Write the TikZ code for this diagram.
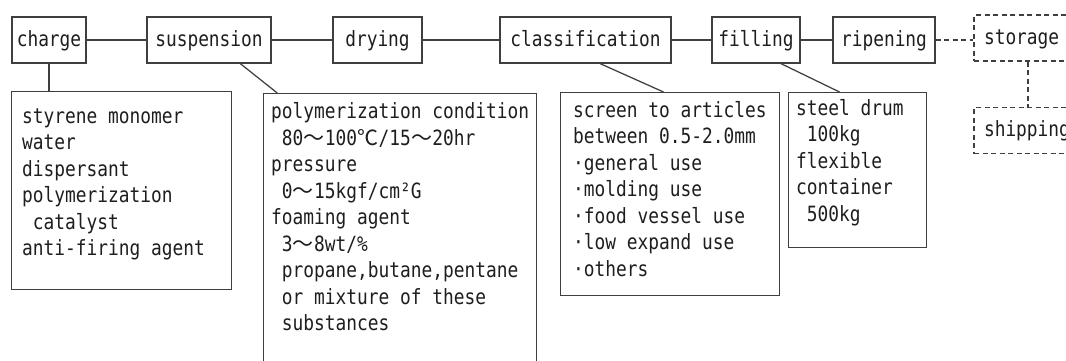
\documentclass[tikz,border=0pt]{standalone}
\usepackage{fontspec}
\usetikzlibrary{calc}
\newfontfamily\monofont[FakeStretch=0.85]{DejaVu Sans Mono}
\newfontfamily\cjkfont{Noto Sans CJK JP}
\newlength\cellw
\setlength\cellw{10.75pt}
% full-width glyph occupying two character cells
\newcommand\fw[1]{\makebox[2\cellw]{\cjkfont #1}}
% one-cell indent at the start of a line
\newcommand\ind{\hspace*{\cellw}}
\newcommand\txtfont{\monofont\fontsize{21pt}{26.5pt}\selectfont}
\definecolor{linec}{HTML}{3F3F3F}
\definecolor{inkc}{HTML}{1E1E1E}

\tikzset{
  boxline/.style={draw=linec, line width=1.25pt},
  stage/.style={boxline, rectangle, inner sep=0pt, minimum height=46pt,
    text height=12pt, text depth=0pt, font=\txtfont, text=inkc},
  futurestage/.style={stage, dash pattern=on 5pt off 3.5pt, align=left,
    text width=88pt, inner xsep=10pt, minimum width=108pt},
  notebox/.style={boxline, rectangle, inner sep=0pt, anchor=north west},
  notetext/.style={anchor=north west, inner sep=0pt, align=left,
    font=\txtfont, text=inkc},
  link/.style={draw=linec, line width=1.25pt},
  futurelink/.style={link, dash pattern=on 5pt off 3.5pt}
}

\begin{document}
\begin{tikzpicture}[x=1pt, y=-1pt]
\useasboundingbox (0,0) rectangle (1066,360);
\fill[white] (0,0) rectangle (1066,360);
\clip (0,0) rectangle (1066,360);

% process stages
\node[stage, minimum width=74pt]  (charge)   at (49,40)    {charge};
\node[stage, minimum width=124pt] (susp)     at (209,40)   {suspension};
\node[stage, minimum width=89pt]  (drying)   at (377.5,40) {drying};
\node[stage, minimum width=171pt] (classif)  at (585.5,40) {classification};
\node[stage, minimum width=88pt]  (filling)  at (756,40)   {filling};
\node[stage, minimum width=102pt] (ripening) at (884,40)   {ripening};
\node[futurestage] (storage)  at (1028,38)  {storage};
\node[futurestage] (shipping) at (1028,130.5) {shipping};

% stage connectors
\draw[link] (charge.east) -- (susp.west);
\draw[link] (susp.east) -- (drying.west);
\draw[link] (drying.east) -- (classif.west);
\draw[link] (classif.east) -- (filling.west);
\draw[link] (filling.east) -- (ripening.west);
\draw[futurelink] (ripening.east) -- (ripening.east -| storage.west);
\draw[futurelink] (storage.south) -- (shipping.north);

% detail boxes
\node[notebox, minimum width=220pt, minimum height=198pt] (raw)    at (11,91)  {};
\node[notebox, minimum width=273pt, minimum height=300pt] (cond)   at (263,93) {};
\node[notebox, minimum width=219pt, minimum height=203pt] (grades) at (560,92) {};
\node[notebox, minimum width=138pt, minimum height=155pt] (pack)   at (788,92) {};

\node[notetext] (rawtxt) at (22,104.45) {\strut styrene monomer\\water\\dispersant\\polymerization\\\ind catalyst\\anti-firing agent};
\node[notetext] (condtxt) at (271,100) {\strut polymerization condition\\
\ind 80\fw{〜}100\fw{℃}/15\fw{〜}20hr\\pressure\\
\ind 0\fw{〜}15kgf/cm²G\\foaming agent\\
\ind 3\fw{〜}8wt/\%\\
\ind propane,butane,pentane\\\ind or mixture of these\\\ind substances};
\node[notetext] (gradestxt) at (573,98.45) {\strut screen to articles\\between 0.5-2.0mm\\·general use\\·molding use\\·food vessel use\\·low expand use\\·others};
\node[notetext] (packtxt) at (796,96.45) {\strut steel drum\\\ind 100kg\\flexible\\container\\\ind 500kg};

% leaders from stages to their detail boxes
\draw[link] (charge.south) -- (charge.south |- raw.north);
\draw[link] ($(susp.south west)!0.75!(susp.south east)$) -- ($(cond.north west)!0.052!(cond.north east)$);
\draw[link] ($(classif.south west)!0.585!(classif.south east)$) -- ($(grades.north west)!0.47!(grades.north east)$);
\draw[link] ($(filling.south west)!0.78!(filling.south east)$) -- ($(pack.north west)!0.37!(pack.north east)$);
\end{tikzpicture}
\end{document}
